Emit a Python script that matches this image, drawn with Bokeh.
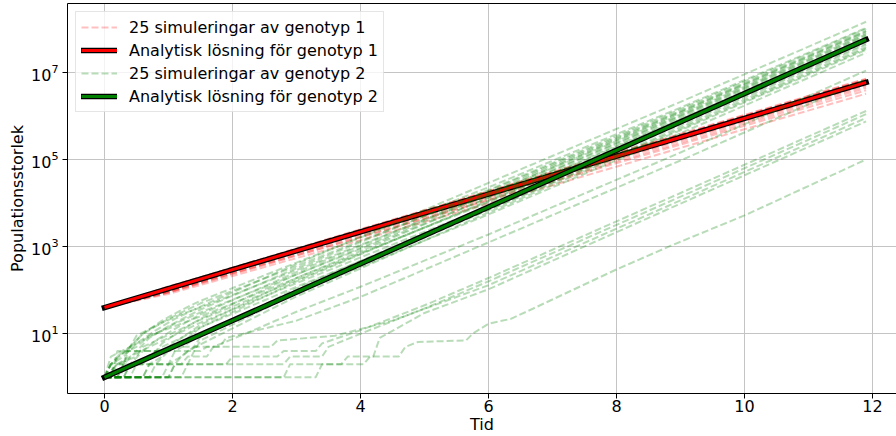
from bokeh.plotting import figure
from bokeh.models import Range1d, FixedTicker, LinearAxis, Legend, LegendItem
from bokeh.embed import file_html
from bokeh.resources import INLINE

FONT = "DejaVu Sans"

# Axis ticks
x_ticks = [0, 2, 4, 6, 8, 10, 12]
y_ticks = [1e1, 1e3, 1e5, 1e7]

# Analytic growth curves (N0 * exp(r t)), sampled values
analytic_t = [0, 2, 4, 6, 8, 10, 11.9]
analytic_g1 = [40, 296, 2180, 16100, 119000, 881000, 5.89e6]
analytic_g2 = [1, 20.1, 403, 8100, 162800, 3.27e6, 5.66e7]

# Stochastic runs for genotype 1 (all share the same sample times)
sim1_t = [0, 1, 2, 4, 7, 11.9]
sim1_n = [
    [40, 120, 331, 2512, 50440, 6.95e6],
    [40, 114, 319, 2402, 49130, 6.60e6],
    [40, 109, 310, 2359, 47370, 6.48e6],
    [40, 122, 325, 2315, 46060, 6.18e6],
    [40, 107, 302, 2271, 46060, 6.24e6],
    [40, 114, 310, 2250, 44740, 6.01e6],
    [40, 103, 290, 2184, 44300, 5.95e6],
    [40, 111, 296, 2162, 42990, 5.77e6],
    [40, 100, 281, 2118, 42990, 5.83e6],
    [40, 117, 307, 2228, 43870, 5.89e6],
    [40, 98, 285, 2175, 44110, 6.05e6],
    [40, 109, 300, 2237, 45670, 6.20e6],
    [40, 103, 288, 2153, 43790, 5.98e6],
    [40, 96, 276, 2109, 42360, 5.72e6],
    [40, 112, 303, 2275, 45230, 6.14e6],
    [40, 92, 264, 2022, 41600, 5.58e6],
    [40, 105, 285, 2066, 41480, 5.50e6],
    [40, 89, 246, 1847, 37090, 4.91e6],
    [40, 98, 261, 1913, 38410, 5.19e6],
    [40, 87, 232, 1672, 32710, 4.42e6],
    [40, 92, 241, 1629, 30510, 3.87e6],
    [40, 82, 211, 1410, 25560, 3.24e6],
    [40, 116, 325, 2446, 51760, 7.19e6],
    [40, 101, 294, 2284, 47180, 6.48e6],
    [40, 113, 315, 2354, 48560, 6.72e6],
]

# Stochastic runs for genotype 2 (each run has its own event times)
sim2_t = [
    [0, 0.1, 0.3, 0.5, 0.8, 1.1, 1.5, 3, 6, 9, 11.9],
    [0, 0.1, 0.2, 0.4, 0.6, 0.9, 1.2, 1.5, 3, 6, 9, 11.9],
    [0, 0.2, 0.3, 0.5, 0.7, 1.0, 1.5, 3, 6, 9, 11.9],
    [0, 0.1, 0.4, 0.6, 1.0, 1.5, 3, 6, 9, 11.9],
    [0, 0.3, 0.4, 0.6, 0.8, 1.1, 1.5, 3, 6, 9, 11.9],
    [0, 0.4, 0.5, 0.8, 0.9, 1.2, 1.5, 3, 6, 9, 11.9],
    [0, 0.1, 0.4, 0.5, 0.9, 1.2, 1.5, 3, 6, 9, 11.9],
    [0, 0.6, 0.7, 0.9, 1.0, 1.2, 1.5, 3, 6, 9, 11.9],
    [0, 0.1, 0.3, 0.4, 0.8, 1.1, 1.5, 3, 6, 9, 11.9],
    [0, 0.7, 0.8, 1.0, 1.1, 1.3, 1.5, 3, 6, 9, 11.9],
    [0, 0.2, 0.5, 0.6, 0.9, 1.2, 1.5, 3, 6, 9, 11.9],
    [0, 0.1, 0.2, 0.5, 0.7, 1.1, 1.5, 3, 6, 9, 11.9],
    [0, 1.0, 1.1, 1.2, 1.4, 1.5, 3, 6, 9, 11.9],
    [0, 0.1, 0.2, 0.4, 0.7, 1.0, 1.5, 3, 6, 9, 11.9],
    [0, 1.2, 1.3, 1.4, 1.5, 3, 6, 9, 11.9],
    [0, 0.2, 0.6, 0.7, 0.9, 1.2, 1.5, 3, 6, 9, 11.9],
    [0, 0.9, 1.0, 1.2, 1.3, 1.5, 3, 6, 9, 11.9],
    [0, 0.3, 0.4, 1.0, 1.1, 1.3, 1.5, 3, 6, 9, 11.9],
    [0, 0.6, 0.7, 1.2, 1.3, 1.6, 1.7, 2.2, 3, 4, 6, 9, 11.9],
    [0, 0.25, 0.35, 1.0, 1.1, 1.8, 1.9, 3, 4, 6, 9, 11.9],
    [0, 0.2, 0.3, 1.9, 2.0, 2.7, 2.8, 3.3, 3.4, 4, 5, 6, 9, 11.9],
    [0, 1.0, 1.1, 2.8, 2.9, 3.4, 3.5, 4, 5, 6, 9, 11.9],
    [0, 0.1, 0.2, 1.5, 1.6, 2.6, 2.7, 3.6, 4.5, 6, 9, 11.9],
    [0, 2.8, 2.9, 3.7, 3.8, 4.2, 4.3, 5, 6, 9, 11.9],
    [0, 3.3, 3.4, 4.05, 4.15, 4.6, 4.7, 4.9, 5.65, 5.75, 6.0, 6.35, 6.7, 8, 8.85, 10, 11.9],
]
sim2_n = [
    [1, 2, 3, 6, 12, 22, 42, 400, 2.9e4, 2.1e6, 1.45e8],
    [1, 1, 3, 5, 10, 20, 35, 57, 430, 2.3e4, 1.55e6, 1.05e8],
    [1, 1, 2, 4, 8, 15, 36, 320, 2.0e4, 1.43e6, 1.0e8],
    [1, 2, 5, 10, 22, 50, 360, 1.9e4, 1.3e6, 9.0e7],
    [1, 1, 2, 4, 7, 13, 28, 260, 1.7e4, 1.25e6, 8.7e7],
    [1, 1, 2, 4, 6, 12, 22, 230, 1.55e4, 1.17e6, 8.1e7],
    [1, 3, 5, 9, 18, 28, 40, 290, 1.55e4, 1.09e6, 7.5e7],
    [1, 1, 2, 3, 5, 8, 16, 190, 1.35e4, 1.02e6, 7.1e7],
    [1, 2, 2, 5, 10, 17, 31, 230, 1.3e4, 9.7e5, 6.6e7],
    [1, 1, 2, 4, 5, 8, 14, 160, 1.15e4, 8.8e5, 6.2e7],
    [1, 2, 3, 5, 8, 13, 21, 170, 1.1e4, 8.3e5, 5.8e7],
    [1, 2, 3, 5, 9, 15, 25, 190, 1.03e4, 7.5e5, 5.2e7],
    [1, 1, 2, 3, 5, 8.5, 110, 8.6e3, 6.7e5, 4.7e7],
    [1, 1, 2, 3, 5, 8, 18, 145, 8.5e3, 6.2e5, 4.3e7],
    [1, 1, 2, 4, 7, 86, 7.0e3, 5.5e5, 3.8e7],
    [1, 2, 2, 3, 5, 8, 14, 120, 6.9e3, 5.0e5, 3.5e7],
    [1, 1, 2, 3, 4, 5.7, 72, 6.1e3, 4.7e5, 3.3e7],
    [1, 1, 2, 2, 4, 6, 10, 86, 5.5e3, 4.0e5, 2.8e7],
    [1, 1, 2, 2, 3, 3, 5, 10, 32, 120, 1.9e3, 1.45e5, 1.1e7],
    [1, 1, 4, 4, 5, 5, 8, 20, 70, 1.25e3, 9.5e4, 7.0e6],
    [1, 1, 2, 2, 3, 3, 4, 4, 6, 12, 45, 190, 1.7e4, 1.3e6],
    [1, 1, 2, 2, 3, 3, 5, 10, 38, 160, 1.4e4, 1.1e6],
    [1, 1, 4, 4, 5, 5, 7, 9, 20, 130, 1.15e4, 9.0e5],
    [1, 1, 2, 2, 3, 3, 8, 30, 105, 9.7e3, 7.5e5],
    [1, 1, 2, 2, 3, 3, 5, 6.5, 7, 10, 17, 22, 38, 300, 1050, 5200, 1.0e5],
]

labels = [
    "25 simuleringar av genotyp 1",
    "Analytisk lösning för genotyp 1",
    "25 simuleringar av genotyp 2",
    "Analytisk lösning för genotyp 2",
]

p = figure(
    width=896, height=436,
    title=None,
    y_axis_type="log",
    x_range=Range1d(-0.578, 12.375),
    y_range=Range1d(0.425, 3.81e8),
    output_backend="svg",
    toolbar_location=None,
    min_border_left=67, min_border_right=0,
    min_border_top=3, min_border_bottom=42,
)
p.outline_line_color = None
p.background_fill_color = "white"
p.border_fill_color = "white"

dash = "7 3"

# genotype 1
r_sim1 = p.multi_line(
    xs=[sim1_t] * len(sim1_n), ys=sim1_n,
    line_color="red", line_alpha=0.25, line_width=2, line_dash=dash,
)
r_a1_edge = p.line(analytic_t, analytic_g1, line_color="black", line_width=5.5, line_cap="square")
r_a1 = p.line(analytic_t, analytic_g1, line_color="red", line_width=3)

# genotype 2
r_sim2 = p.multi_line(
    xs=sim2_t, ys=sim2_n,
    line_color="green", line_alpha=0.28, line_width=2, line_dash=dash,
)
r_a2_edge = p.line(analytic_t, analytic_g2, line_color="black", line_width=5.5, line_cap="square")
r_a2 = p.line(analytic_t, analytic_g2, line_color="green", line_width=3)

# axes
for ax in (p.xaxis[0], p.yaxis[0]):
    ax.axis_line_color = "black"
    ax.axis_line_width = 1
    ax.major_tick_line_color = "black"
    ax.major_tick_out = 5
    ax.major_tick_in = 0
    ax.minor_tick_line_color = None
    ax.major_label_text_font = FONT
    ax.major_label_text_font_size = "16px"
    ax.major_label_text_color = "black"
    ax.major_label_text_line_height = 1.0
    ax.axis_label_text_font = FONT
    ax.axis_label_text_font_size = "16px"
    ax.axis_label_text_font_style = "normal"
    ax.axis_label_text_color = "black"
    ax.axis_label_text_line_height = 1.0

p.xaxis.ticker = FixedTicker(ticks=x_ticks, minor_ticks=[])
p.yaxis.ticker = FixedTicker(ticks=y_ticks, minor_ticks=[])
p.xaxis.axis_label = "Tid"
p.yaxis.axis_label = "Populationsstorlek"
p.xaxis.major_label_standoff = 1
p.xaxis.axis_label_standoff = 0
p.yaxis.major_label_standoff = 4
p.yaxis.axis_label_standoff = 1

# top spine
top = LinearAxis(
    ticker=FixedTicker(ticks=[], minor_ticks=[]),
    major_tick_out=0, major_tick_in=0, minor_tick_out=0, minor_tick_in=0,
    major_label_text_font_size="0px", major_label_standoff=0,
    axis_label_standoff=0,
    axis_line_color="black", axis_line_width=1,
)
p.add_layout(top, "above")

# grid
for g in (p.xgrid[0], p.ygrid[0]):
    g.grid_line_color = "#c4c4c4"
    g.grid_line_width = 1
p.xgrid.ticker = FixedTicker(ticks=x_ticks)
p.ygrid.ticker = FixedTicker(ticks=y_ticks)

legend = Legend(
    items=[
        LegendItem(label=labels[0], renderers=[r_sim1]),
        LegendItem(label=labels[1], renderers=[r_a1_edge, r_a1]),
        LegendItem(label=labels[2], renderers=[r_sim2]),
        LegendItem(label=labels[3], renderers=[r_a2_edge, r_a2]),
    ],
    location="top_left",
    margin=8, padding=5, spacing=3,
    glyph_width=36, glyph_height=20, label_height=20,
    label_standoff=12,
    label_text_font=FONT, label_text_font_size="16px", label_text_color="black",
    border_line_color="#cccccc", border_line_width=1,
    background_fill_color="white", background_fill_alpha=0.8,
)
p.add_layout(legend)

open("out.html", "w").write(file_html(p, INLINE))
